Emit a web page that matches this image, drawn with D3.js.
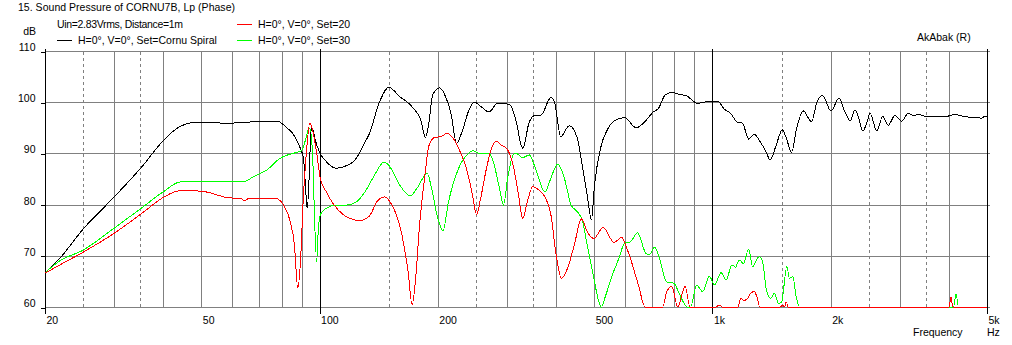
<!DOCTYPE html>
<html>
<head>
<meta charset="utf-8">
<script src="https://cdn.jsdelivr.net/npm/d3@7"></script>
<style>
  body { margin: 0; background: #fff; }
  svg text { font-family: "Liberation Sans", Arial, sans-serif; font-size: 10.5px; fill: #000; }
</style>
</head>
<body>
<div id="chart"></div>
<script>
// values: [frequency Hz, level dB]
var cornuSpiral = [
  [20,66.7],[21.8,69.5],[25,75.2],[30,81.5],[35.3,87.4],[40,92.5],[44,95.2],[48.9,96.1],
  [58.5,95.9],[70.5,96.2],[78.5,96.2],[82,95.2],[86.5,93.3],[89,91.3],[91,89],[92.5,81.2],
  [93,79.3],[94.2,86.4],[95,94.2],[95.8,94.9],[97.5,92.6],[100,90.2],[104,88.4],[110,87.1],
  [117,87.6],[123,88.7],[126.8,90.3],[130.5,92.2],[134,93.9],[141.7,99.8],[150,102.9],
  [160,101.1],[172,99.1],[181,96.5],[186,93.1],[190,96.2],[194,101.4],[202,102.8],[210,100.8],
  [216.5,97.5],[223,92],[232,94.9],[239,98.1],[248,100],[258,99.1],[270,98.1],[284,99.8],
  [304,99.6],[316,96.5],[327,91.3],[329,91],[342,96.2],[355,97.5],[366,97.5],[388,100.9],
  [396,100.1],[411,93.3],[432,95.4],[453,93],[466,87.7],[480,81.9],[492,77],[501,83.8],
  [519,91],[540,94.6],[562,96.3],[597,97],[640,95],[673,96.2],[707,98.1],[729,98.8],
  [758,101.4],[789,101.9],[827,101.5],[857,101.3],[915,99.8],[991,100.2],[1030,100.2],
  [1071,98.7],[1113,97.8],[1158,96.1],[1193,95.9],[1236,92.8],[1278,93.7],[1330,92],
  [1370,90.3],[1403,88.7],[1453,91.6],[1506,94.6],[1542,93],[1590,90.2],[1638,94.9],
  [1703,98.3],[1787,96.2],[1847,100.1],[1906,101.3],[2004,98.3],[2101,100.8],[2168,98.3],
  [2197,97.5],[2240,96.3],[2306,98.5],[2352,97.2],[2414,94.4],[2461,95.5],[2520,97.8],
  [2620,94.4],[2713,97.2],[2803,95.5],[2914,97.4],[3030,96.3],[3150,97.8],[3244,97.4],
  [3340,97.6],[3506,97.2],[3716,97.2],[3988,97.3],[4130,97.6],[4330,97.3],[4590,97],
  [4850,96.9],[4930,97.2],[5000,97.2]
];

var set20 = [
  [20,66.6],[21.8,68.2],[25,70.7],[30,74.4],[35.3,78.3],[40,81.4],[44,82.7],[47.5,82.7],
  [51.2,82.5],[57.9,81.4],[63.4,81.1],[64.1,80.7],[66.1,81.2],[77.2,81.2],[81,79.9],
  [84.2,76.7],[86.3,72.1],[88,63.7],[89.3,68.2],[91,81.9],[92.6,90.3],[94.4,95.9],[96.2,94.2],
  [98.5,89.7],[100.4,85.1],[104,82.5],[108,80.3],[115,78],[123,77],[126.8,76.9],[134,77.8],
  [140,80.6],[146,81.5],[151,80.6],[162,74.1],[168,66.9],[172,60.4],[175,64.3],[180,76.7],
  [185,85.1],[190,91.6],[196,93.1],[204,93.3],[211,93.9],[219,92.9],[228,90.3],[237,86.8],
  [245,81.9],[251,78],[257,81.2],[266,87.1],[274,91],[282,92.4],[290,91.6],[299,91],
  [311,87.7],[320,82.5],[329,77.3],[338,80.6],[349,83.5],[361,82.9],[378,80.9],[388,78],
  [400,70.2],[413,65.6],[428,67.6],[445,72.1],[464,77.2],[480,74.7],[499,73.4],[527,75.5],
  [562,72.6],[587,73.6],[608,71.1],[648,64.3],[674,60],[747,60],[765,63],[788,64],[816,60],
  [852,64],[877,60],[1020,60],[1040,60.4],[1060,60],[1160,60],[1182,61.7],[1200,61.3],
  [1225,61.5],[1252,62.7],[1278,63],[1300,61.8],[1320,60],[1490,60],[1510,60.4],[1525,60],
  [1542,61],[1560,60],[4000,60],[4050,62],[4090,60],[5000,60]
];

var set30 = [
  [20,66.7],[21.8,69],[25,71.1],[30,75.4],[35.3,79.4],[40,82.5],[44,84.4],[48.9,84.6],
  [64.1,84.5],[68,85.5],[73.5,86.8],[79.2,89],[87.4,90.2],[90,90.5],[91.8,92.3],[93.6,94.6],
  [94.4,94.9],[96,89.7],[96.7,81.9],[98.3,68.9],[99.2,74.7],[100.4,78],[104,79.3],[110,79.9],
  [117,79.9],[124.4,80.6],[126.8,81.2],[130.5,82.5],[136.5,85.1],[146,88.3],[150,87.7],
  [160,83.8],[170,81.7],[177,83.2],[188,86.1],[192,83.8],[200,77.3],[206,74.9],[213,80.6],
  [226,87.1],[237,89.7],[246,90.5],[256,90],[269,90],[276,88.7],[287,83.2],[294,79.9],
  [301,85.1],[311,89.7],[316,90],[329,89.2],[342,89.7],[352,87.7],[375,82.5],[385,84.5],
  [404,87.9],[420,85.1],[437,79.9],[453,78.6],[466,77],[480,72.1],[499,65.6],[514,61],
  [522,59.5],[532,61.7],[556,66.2],[578,69.5],[597,72.4],[620,72.8],[644,74.5],[677,70.5],
  [690,70.2],[713,71.7],[733,69.5],[765,64.9],[799,64.6],[819,63],[843,61],[864,60],[880,60],
  [912,64.3],[944,63],[982,66],[1012,64.3],[1052,66.7],[1084,65.3],[1121,68.2],[1145,67.8],
  [1170,69.2],[1200,68.5],[1236,71.3],[1266,67.9],[1314,69.8],[1340,69],[1375,63],[1410,61.7],
  [1437,62.7],[1474,60.7],[1500,61],[1547,67.9],[1571,65.6],[1602,65.9],[1634,62],[1666,60],
  [4110,60],[4170,62.6],[4230,60],[5000,60]
];

var yTicks = [60, 70, 80, 90, 100, 110];
var xLabelTicks = [20, 50, 100, 200, 500, 1000, 2000, 5000];
var solidGrid = [30, 40, 50, 60, 70, 80, 90, 200, 300, 400, 500, 600, 700, 800, 900, 2000, 3000, 4000];
var dashedGrid = [25, 35, 150, 250, 350, 1500, 2500, 3500];
var majorGrid = [20, 100, 1000, 5000];

var series = [
  { name: 'H=0°, V=0°, Set=Cornu Spiral', color: '#000000', values: cornuSpiral, lx: 57, ly: 40 },
  { name: 'H=0°, V=0°, Set=30', color: '#00ff00', values: set30, lx: 237, ly: 40 },
  { name: 'H=0°, V=0°, Set=20', color: '#ff0000', values: set20, lx: 237, ly: 24 }
];

var W = 1012, H = 345;

var svg = d3.select('#chart').append('svg')
  .attr('width', W)
  .attr('height', H);

var x = d3.scaleLog().domain([20, 5000]).range([45, 987]);
var y = d3.scaleLinear().domain([60, 110]).range([307, 51]).clamp(true);

var px = function(v) { return Math.round(x(v)) + 0.5; };
var py = function(v) { return Math.round(y(v)) + 0.5; };

var grid = svg.append('g').attr('shape-rendering', 'crispEdges');

// horizontal grid
grid.selectAll('.hgrid')
  .data(yTicks)
  .enter().append('line')
    .attr('x1', px(20)).attr('x2', 990)
    .attr('y1', py).attr('y2', py)
    .attr('stroke', '#808080');

grid.selectAll('.vsolid')
  .data(solidGrid)
  .enter().append('line')
    .attr('x1', px).attr('x2', px)
    .attr('y1', py(110)).attr('y2', py(60))
    .attr('stroke', '#808080');

grid.selectAll('.vdash')
  .data(dashedGrid)
  .enter().append('line')
    .attr('x1', px).attr('x2', px)
    .attr('y1', py(110)).attr('y2', py(60))
    .attr('stroke', '#808080')
    .attr('stroke-dasharray', '3,3');

grid.selectAll('.vmajor')
  .data(majorGrid)
  .enter().append('line')
    .attr('x1', px).attr('x2', px)
    .attr('y1', py(110) - 3).attr('y2', py(60) + 6)
    .attr('stroke', '#000');

// y axis
var yAxis = d3.axisLeft(y).tickValues(yTicks).tickSize(5).tickPadding(5);
var gy = svg.append('g')
  .attr('transform', 'translate(' + px(20) + ',0.5)')
  .attr('shape-rendering', 'crispEdges')
  .call(yAxis);
gy.select('.domain').remove();
gy.selectAll('line').attr('stroke', '#000');
gy.selectAll('text').attr('dy', '0').attr('y', -1);
gy.attr('font-family', null).attr('font-size', null);

// x axis labels
var xAxis = d3.axisBottom(x).tickValues(xLabelTicks).tickSize(0)
  .tickFormat(function(d) { return d >= 1000 ? (d / 1000) + 'k' : d; });
var gx = svg.append('g')
  .attr('transform', 'translate(0,' + py(60) + ')')
  .call(xAxis);
gx.select('.domain').remove();
gx.selectAll('text')
  .attr('text-anchor', 'start')
  .attr('x', 1)
  .attr('y', 16)
  .attr('dy', '0');
gx.attr('font-family', null).attr('font-size', null);

// curves
var line = d3.line()
  .curve(d3.curveMonotoneX)
  .x(function(d) { return x(d[0]); })
  .y(function(d) { return y(d[1]); });

svg.append('g')
  .selectAll('path')
  .data(series)
  .enter().append('path')
    .attr('d', function(d) { return line(d.values); })
    .attr('fill', 'none')
    .attr('stroke', function(d) { return d.color; })
    .attr('stroke-width', 1)
    .attr('shape-rendering', 'crispEdges');

// legend
var legend = svg.append('g');
legend.selectAll('line')
  .data(series)
  .enter().append('line')
    .attr('x1', function(d) { return d.lx; })
    .attr('x2', function(d) { return d.lx + 15; })
    .attr('y1', function(d) { return d.ly + 0.5; })
    .attr('y2', function(d) { return d.ly + 0.5; })
    .attr('stroke', function(d) { return d.color; })
    .attr('shape-rendering', 'crispEdges');
legend.selectAll('text')
  .data(series)
  .enter().append('text')
    .attr('x', function(d) { return d.lx + 21; })
    .attr('y', function(d) { return d.ly + 3.5; })
    .text(function(d) { return d.name; });

// texts
svg.append('text').attr('x', 18).attr('y', 10.5)
  .attr('textLength', 217).attr('lengthAdjust', 'spacing')
  .text('15. Sound Pressure of CORNU7B, Lp (Phase)');
svg.append('text').attr('x', 57).attr('y', 27.5)
  .attr('textLength', 126).attr('lengthAdjust', 'spacing')
  .text('Uin=2.83Vrms, Distance=1m');
svg.append('text').attr('x', 36).attr('y', 35).attr('text-anchor', 'end').text('dB');
svg.append('text').attr('x', 917).attr('y', 41).text('AkAbak (R)');
svg.append('text').attr('x', 913).attr('y', 336).text('Frequency');
svg.append('text').attr('x', 987).attr('y', 336).text('Hz');
</script>
</body>
</html>
